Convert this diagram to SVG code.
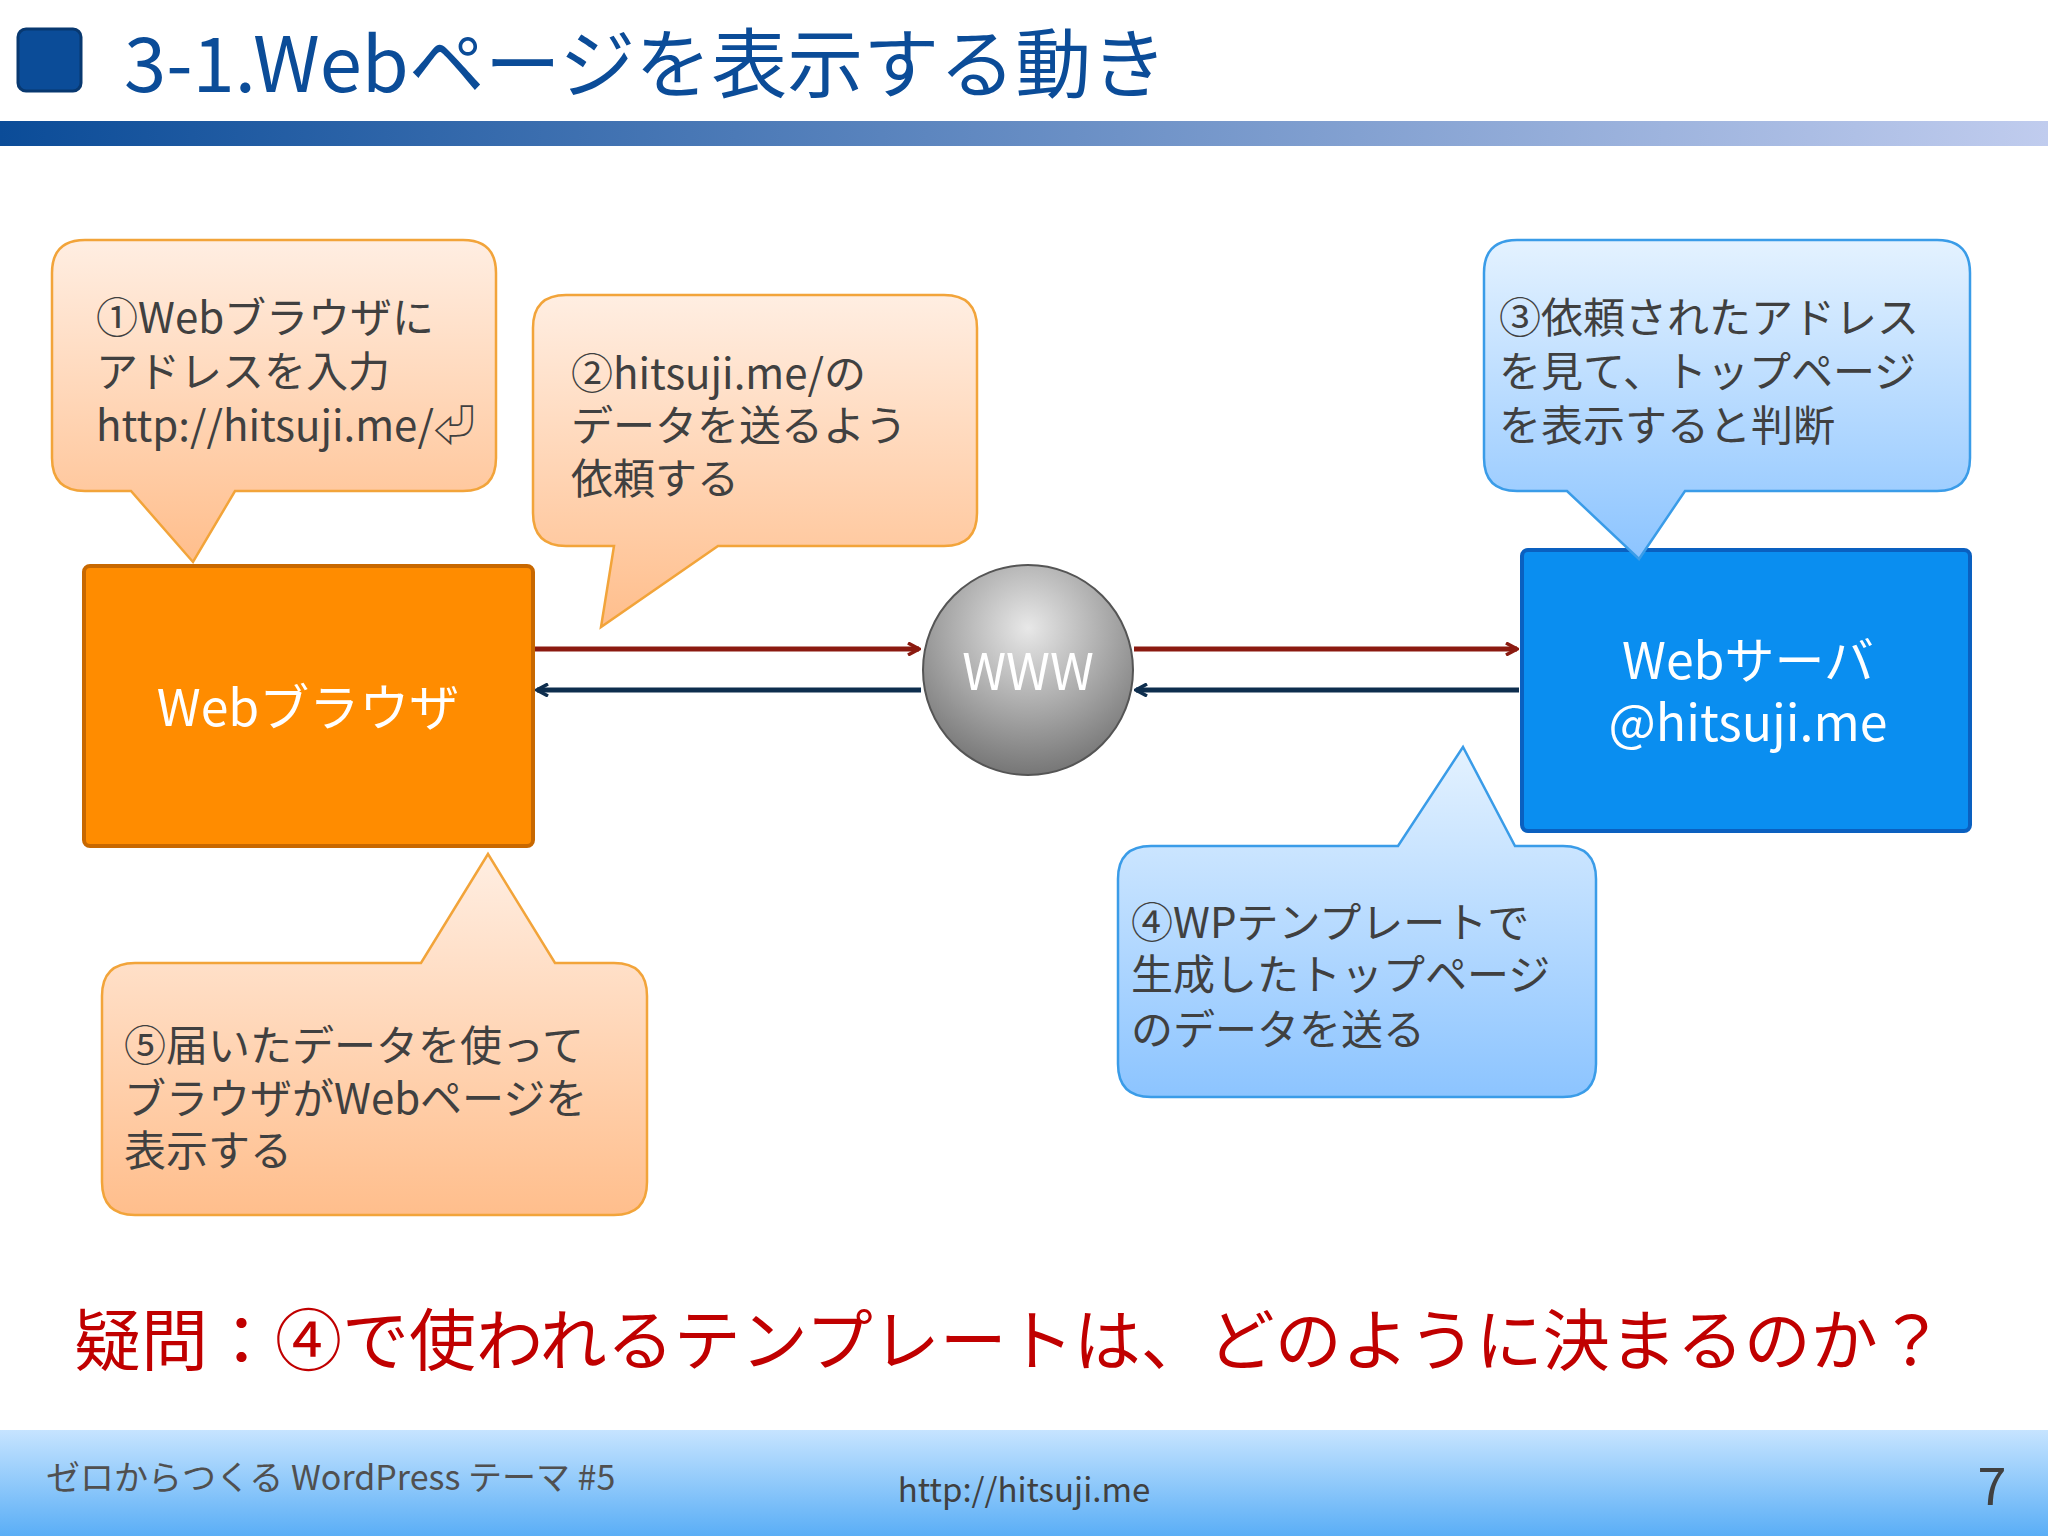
<svg xmlns="http://www.w3.org/2000/svg" width="2048" height="1536" viewBox="0 0 2048 1536">
<defs>
<linearGradient id="bar" x1="0" x2="1" y1="0" y2="0"><stop offset="0" stop-color="#0B4C98"/><stop offset="1" stop-color="#C0CCEE"/></linearGradient>
<linearGradient id="foot" x1="0" x2="0" y1="0" y2="1"><stop offset="0" stop-color="#C6E4FF"/><stop offset="1" stop-color="#5AAEF6"/></linearGradient>
<linearGradient id="og" x1="0" x2="0" y1="0" y2="1"><stop offset="0" stop-color="#FFEEE2"/><stop offset="1" stop-color="#FFBE8C"/></linearGradient>
<linearGradient id="bg" x1="0" x2="0" y1="0" y2="1"><stop offset="0" stop-color="#E4F2FF"/><stop offset="1" stop-color="#8CC4FF"/></linearGradient>
<radialGradient id="cg" cx="0.5" cy="0.3" r="0.75"><stop offset="0" stop-color="#E8E8E8"/><stop offset="1" stop-color="#6E6E6E"/></radialGradient>
<marker id="ar" markerWidth="14" markerHeight="14" refX="12" refY="7" orient="auto" markerUnits="userSpaceOnUse"><path d="M1,1 L12,7 L1,13" fill="none" stroke="#8B1A10" stroke-width="3.5"/></marker>
<marker id="ab" markerWidth="14" markerHeight="14" refX="12" refY="7" orient="auto" markerUnits="userSpaceOnUse"><path d="M1,1 L12,7 L1,13" fill="none" stroke="#0E2E4E" stroke-width="3.5"/></marker>
</defs>
<style>
text{font-family:"Noto Sans CJK JP","Noto Sans",sans-serif}
.t{font-size:42px;fill:#404040}
.oc{fill:url(#og);stroke:#F2A43A;stroke-width:2.5}
.bc{fill:url(#bg);stroke:#3A9CE8;stroke-width:2.5}
.w{fill:#fff;font-size:50px;text-anchor:middle}
</style>
<rect width="2048" height="1536" fill="#fff"/>
<g id="header">
<rect x="18" y="29" width="63" height="62" rx="8" fill="#0B4C98" stroke="#083870" stroke-width="3"/>
<text x="124" y="92" font-size="76" fill="#0B4C98">3-1.Webページを表示する動き</text>
<rect x="0" y="121" width="2048" height="25" fill="url(#bar)"/>
</g>
<g id="connectors">
<line x1="535" y1="649" x2="919" y2="649" stroke="#8B1A10" stroke-width="5" marker-end="url(#ar)"/>
<line x1="1134" y1="649" x2="1517" y2="649" stroke="#8B1A10" stroke-width="5" marker-end="url(#ar)"/>
<line x1="921" y1="690" x2="537" y2="690" stroke="#0E2E4E" stroke-width="5" marker-end="url(#ab)"/>
<line x1="1519" y1="690" x2="1136" y2="690" stroke="#0E2E4E" stroke-width="5" marker-end="url(#ab)"/>
</g>
<g id="browser"><rect x="84" y="566" width="449" height="280" rx="6" fill="#FF8C00" stroke="#C86800" stroke-width="4"/><text x="308" y="726" class="w">Webブラウザ</text></g>
<g id="www"><circle cx="1028" cy="670" r="105" fill="url(#cg)" stroke="#555" stroke-width="2"/><text x="1028" y="690" class="w">WWW</text></g>
<g id="server"><rect x="1522" y="550" width="448" height="281" rx="6" fill="#0A8EF0" stroke="#0A60C0" stroke-width="4"/><text x="1748" y="679" class="w">Webサーバ</text><text x="1748" y="741" class="w">@hitsuji.me</text></g>
<g id="c1"><path class="oc" d="M85,240 H463 Q496,240 496,273 V458 Q496,491 463,491 H235 L193,562 L131,491 H85 Q52,491 52,458 V273 Q52,240 85,240Z"/>
<text class="t" x="96" y="333">①Webブラウザに</text><text class="t" x="96" y="387">アドレスを入力</text><text class="t" x="96" y="441">http://hitsuji.me/⏎</text></g>
<g id="c2"><path class="oc" d="M566,295 H944 Q977,295 977,328 V513 Q977,546 944,546 H718 L601,627 L614,546 H566 Q533,546 533,513 V328 Q533,295 566,295Z"/>
<text class="t" x="571" y="389">②hitsuji.me/の</text><text class="t" x="571" y="441">データを送るよう</text><text class="t" x="571" y="494">依頼する</text></g>
<g id="c3"><path class="bc" d="M1517,240 H1937 Q1970,240 1970,273 V458 Q1970,491 1937,491 H1685 L1639,559 L1567,491 H1517 Q1484,491 1484,458 V273 Q1484,240 1517,240Z"/>
<text class="t" x="1499" y="333">③依頼されたアドレス</text><text class="t" x="1499" y="387">を見て、トップページ</text><text class="t" x="1499" y="441">を表示すると判断</text></g>
<g id="c4"><path class="bc" d="M1151,846 H1398 L1463,747 L1515,846 H1563 Q1596,846 1596,879 V1064 Q1596,1097 1563,1097 H1151 Q1118,1097 1118,1064 V879 Q1118,846 1151,846Z"/>
<text class="t" x="1131" y="938">④WPテンプレートで</text><text class="t" x="1131" y="990">生成したトップページ</text><text class="t" x="1131" y="1045">のデータを送る</text></g>
<g id="c5"><path class="oc" d="M135,963 H421 L488,854 L555,963 H614 Q647,963 647,996 V1182 Q647,1215 614,1215 H135 Q102,1215 102,1182 V996 Q102,963 135,963Z"/>
<text class="t" x="124" y="1061">⑤届いたデータを使って</text><text class="t" x="124" y="1114">ブラウザがWebページを</text><text class="t" x="124" y="1166">表示する</text></g>
<text x="74" y="1365" font-size="67" fill="#C00000">疑問：④で使われるテンプレートは、どのように決まるのか？</text>
<g id="footer">
<rect x="0" y="1430" width="2048" height="106" fill="url(#foot)"/>
<text x="46" y="1490" font-size="34" fill="#505050">ゼロからつくる WordPress テーマ #5</text>
<text x="1024" y="1502" font-size="33" fill="#404040" text-anchor="middle">http://hitsuji.me</text>
<text x="1992" y="1505" font-size="52" fill="#404040" text-anchor="middle">7</text>
</g>
</svg>
